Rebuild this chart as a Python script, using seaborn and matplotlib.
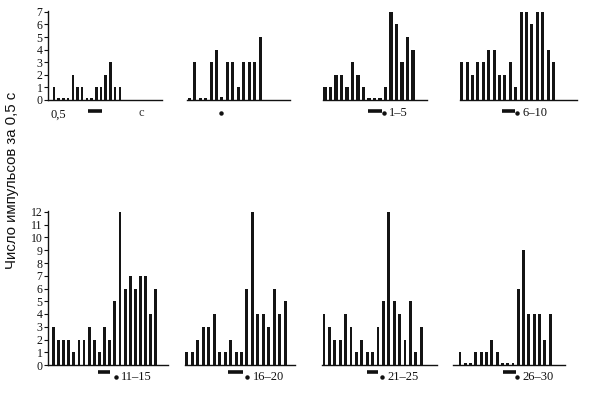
# Eight spike-count histograms (counts per 0.5 s bin), two rows of four panels.

import matplotlib
matplotlib.use("Agg")

import matplotlib.pyplot as plt
import pandas as pd
import seaborn as sns

sns.set_style("white")
plt.rcParams["font.family"] = ["Liberation Serif", "DejaVu Serif"]

# counts (tiny marks for empty bins kept as ~0.15)
counts1 = [1, 0.15, 0.15, 0.15, 2, 1, 1, 0.15, 0.15, 1, 1, 2, 3, 1, 1]
counts2 = [0.15, 3, 0.15, 0.15, 3, 4, 0.2, 3, 3, 1, 3, 3, 3, 5]
counts3 = [1, 1, 2, 2, 1, 3, 2, 1, 0.15, 0.15, 0.15, 1, 7, 6, 3, 5, 4]
counts4 = [3, 3, 2, 3, 3, 4, 4, 2, 2, 3, 1, 7, 7, 6, 7, 7, 4, 3]
counts5 = [3, 2, 2, 2, 1, 2, 2, 3, 2, 1, 3, 2, 5, 12, 6, 7, 6, 7, 7, 4, 6]
counts6 = [1, 1, 2, 3, 3, 4, 1, 1, 2, 1, 1, 6, 12, 4, 4, 3, 6, 4, 5]
counts7 = [4, 3, 2, 2, 4, 3, 1, 2, 1, 1, 3, 5, 12, 5, 4, 2, 5, 1, 3]
counts8 = [1, 0.15, 0.15, 1, 1, 1, 2, 1, 0.15, 0.15, 0.15, 6, 9, 4, 4, 4, 2, 4]

panelLabels = ["", "", "1–5", "6–10", "11–15", "16–20", "21–25", "26–30"]
yTicksTop = list(range(0, 8))
yTicksBottom = list(range(0, 13))
yLabel = "Число импульсов за 0,5 с"

W, H = 593, 393
barColor = "#141414"

# layout in pixels: axis start, axis end, first bar centre, bar spacing,
# and where the stimulus dash / dot / label sit (in bar units)
layout = [
    dict(x0=48, x1=162, first=54.0, step=4.7, dash=(7.2, 10.2), dot=None),
    dict(x0=187, x1=290, first=189.3, step=5.44, dash=None, dot=5.8),
    dict(x0=323, x1=427, first=325.0, step=5.5, dash=(7.8, 10.4), dot=10.7),
    dict(x0=460, x1=577, first=461.7, step=5.4, dash=(7.5, 9.9), dot=10.2),
    dict(x0=48, x1=168, first=53.3, step=5.13, dash=(8.7, 11.1), dot=12.2),
    dict(x0=185, x1=295, first=186.7, step=5.48, dash=(7.5, 10.3), dot=11.0),
    dict(x0=322, x1=437, first=324.0, step=5.4, dash=(8.0, 10.0), dot=10.7),
    dict(x0=453, x1=565, first=460.0, step=5.3, dash=(8.1, 10.6), dot=10.8),
]
allCounts = [counts1, counts2, counts3, counts4, counts5, counts6, counts7, counts8]

fig = plt.figure(figsize=(W / 100, H / 100), dpi=100)

for i, (counts, lay, label) in enumerate(zip(allCounts, layout, panelLabels)):
    topRow = i < 4
    baseline = 100 if topRow else 365
    pxPerUnit = 12.6 if topRow else 12.75
    ymax = 7.1 if topRow else 12.05
    heightPx = ymax * pxPerUnit
    ax = fig.add_axes([lay["x0"] / W, (H - baseline) / H,
                       (lay["x1"] - lay["x0"]) / W, heightPx / H])

    df = pd.DataFrame({"bin": list(range(len(counts))), "count": counts})
    sns.barplot(data=df, x="bin", y="count", color=barColor, saturation=1,
                width=0.55, linewidth=0, ax=ax)

    left = -(lay["first"] - lay["x0"]) / lay["step"]
    right = left + (lay["x1"] - lay["x0"]) / lay["step"]
    ax.set_xlim(left, right)
    ax.set_ylim(0, ymax)
    ax.set_xlabel("")
    ax.set_ylabel("")
    ax.set_xticks([])
    for side in ["top", "right"]:
        ax.spines[side].set_visible(False)
    ax.spines["bottom"].set_linewidth(1.0)
    ax.spines["bottom"].set_color("#111111")

    if i in (0, 4):
        ticks = yTicksTop if topRow else yTicksBottom
        ax.set_yticks(ticks)
        ax.set_yticklabels([str(t) for t in ticks], fontsize=8.5)
        ax.tick_params(axis="y", direction="out", length=3, width=0.8,
                       pad=1, colors="#111111", left=True)
        ax.spines["left"].set_linewidth(1.0)
        ax.spines["left"].set_color("#111111")
    else:
        ax.set_yticks([])
        ax.spines["left"].set_visible(False)

    # stimulus marker under the axis
    dashDrop = 11 if topRow else 7
    dotDrop = 13 if topRow else 12
    if lay["dash"] is not None:
        ax.plot(list(lay["dash"]), [-dashDrop / pxPerUnit] * 2, color="#111111",
                linewidth=2.6, solid_capstyle="butt", clip_on=False)
    if lay["dot"] is not None:
        ax.plot([lay["dot"]], [-dotDrop / pxPerUnit], "o", color="#111111",
                markersize=2.2, clip_on=False)
    if label:
        ax.text(lay["dot"] + 1.0, -dotDrop / pxPerUnit, label, fontsize=9,
                ha="left", va="center", color="#111111", clip_on=False)

# time axis text of the first panel
fig.text(58 / W, 1 - 115 / H, "0,5", fontsize=9, ha="center", va="center",
         color="#111111")
fig.text(141 / W, 1 - 113 / H, "c", fontsize=9, ha="center", va="center",
         color="#333333")

fig.text(12 / W, 1 - 180 / H, yLabel, rotation=90, fontsize=10.8,
         ha="center", va="center", color="#111111",
         family=["Liberation Sans", "DejaVu Sans"])

fig.savefig("out.png", dpi=100, facecolor="white")
